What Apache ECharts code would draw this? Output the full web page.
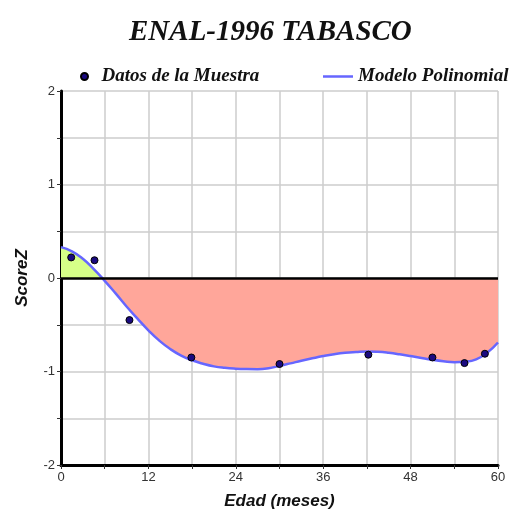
<!DOCTYPE html>
<html>
<head>
<meta charset="utf-8">
<script src="https://cdn.jsdelivr.net/npm/echarts@6/dist/echarts.min.js"></script>
<style>html,body{margin:0;padding:0;background:#fff;}#c{width:518px;height:515px;}</style>
</head>
<body>
<div id="c"></div>
<script>
var titleText = 'ENAL-1996 TABASCO';
var seriesNames = ['Datos de la Muestra', 'Modelo Polinomial'];
var sampleX = [1.4, 4.6, 9.4, 17.9, 30, 42.2, 51, 55.4, 58.2];
var sampleY = [0.22, 0.19, -0.45, -0.85, -0.92, -0.82, -0.85, -0.91, -0.81];
var curveX = [0, 1.5, 3, 4.5, 6, 7.5, 9, 10.5, 12, 13.5, 15, 16.5, 18, 19.5, 21, 22.5, 24, 25.5, 27, 28.5, 30,
              31.5, 33, 34.5, 36, 37.5, 39, 40.5, 42, 43.5, 45, 46.5, 48, 49.5, 51, 52.5, 54, 55.5, 57, 58.5, 60];
var curveY = [0.33, 0.285, 0.205, 0.095, -0.03, -0.165, -0.305, -0.435, -0.56, -0.67, -0.76, -0.83, -0.88, -0.917, -0.945, -0.961, -0.97, -0.974, -0.975, -0.965, -0.94,
              -0.913, -0.885, -0.859, -0.835, -0.815, -0.80, -0.791, -0.785, -0.789, -0.80, -0.816, -0.835, -0.856, -0.875, -0.89, -0.90, -0.895, -0.87, -0.80, -0.69];
var xTicks = {min: 0, max: 60, interval: 6, labelEvery: 12};
var yTicks = {min: -2, max: 2, interval: 0.5, labelEvery: 1};

var chart = echarts.init(document.getElementById('c'));
var samples = sampleX.map(function (x, i) { return [x, sampleY[i]]; });
var curve = curveX.map(function (x, i) { return [x, curveY[i]]; });
var sans = 'Liberation Sans';
var serif = 'Liberation Serif';

function areaColor(zeroPx) {
  if (zeroPx == null) return '#ffa69a';
  return new echarts.graphic.LinearGradient(0, 0, 0, 515, [
    {offset: 0, color: '#d6ff88'},
    {offset: zeroPx / 515, color: '#d6ff88'},
    {offset: zeroPx / 515, color: '#ffa69a'},
    {offset: 1, color: '#ffa69a'}
  ], true);
}

var legendText = {fontFamily: serif, fontStyle: 'italic', fontWeight: 'bold', fontSize: 19, color: '#111'};
var option = {
  backgroundColor: '#fff',
  animation: false,
  title: {
    text: titleText, left: 124, top: 13,
    textStyle: {fontFamily: serif, fontStyle: 'italic', fontWeight: 'bold', fontSize: 29, color: '#111'}
  },
  legend: [
    {data: [{name: seriesNames[0], icon: 'circle'}], left: 75, top: 62, itemWidth: 24, itemHeight: 7, itemGap: 5,
     textStyle: legendText},
    {data: [{name: seriesNames[1], icon: 'rect'}], left: 318, top: 62, itemWidth: 30, itemHeight: 2.5,
     textStyle: legendText}
  ],
  grid: {left: 61, right: 20, top: 91, bottom: 49},
  xAxis: {
    type: 'value', min: xTicks.min, max: xTicks.max, interval: xTicks.interval,
    name: 'Edad (meses)', nameLocation: 'middle', nameGap: 28,
    nameTextStyle: {fontFamily: sans, fontStyle: 'italic', fontWeight: 'bold', fontSize: 17, color: '#111'},
    axisLine: {onZero: false, lineStyle: {color: '#000', width: 3}},
    axisTick: {show: true, length: 4, lineStyle: {color: '#333', width: 1}},
    axisLabel: {fontFamily: sans, fontSize: 13, color: '#333', margin: 6,
      formatter: function (v) { return v % xTicks.labelEvery === 0 ? String(v) : ''; }},
    splitLine: {show: true, lineStyle: {color: '#cccccc', width: 1.5}}
  },
  yAxis: {
    type: 'value', min: yTicks.min, max: yTicks.max, interval: yTicks.interval,
    name: 'ScoreZ', nameLocation: 'middle', nameGap: 30,
    nameTextStyle: {fontFamily: sans, fontStyle: 'italic', fontWeight: 'bold', fontSize: 17, color: '#111'},
    axisLine: {lineStyle: {color: '#000', width: 3}},
    axisTick: {show: true, length: 4, lineStyle: {color: '#333', width: 1}},
    axisLabel: {fontFamily: sans, fontSize: 13, color: '#333', margin: 6,
      formatter: function (v) { return v % yTicks.labelEvery === 0 ? String(v) : ''; }},
    splitLine: {show: true, lineStyle: {color: '#cccccc', width: 1.5}}
  },
  series: [
    {
      name: seriesNames[1], type: 'line', data: curve, smooth: true, symbol: 'none',
      lineStyle: {color: '#6666ff', width: 2.5},
      itemStyle: {color: '#6666ff'},
      areaStyle: {color: areaColor(null), opacity: 1, origin: 0},
      markLine: {silent: true, symbol: 'none', label: {show: false},
        lineStyle: {color: '#000', width: 2.5, type: 'solid'}, data: [{yAxis: 0}]},
      z: 2
    },
    {
      name: seriesNames[0], type: 'scatter', data: samples, symbolSize: 7,
      itemStyle: {color: '#1a0a80', borderColor: '#000', borderWidth: 1, opacity: 1},
      z: 5
    }
  ]
};
chart.setOption(option);
var zeroPx = chart.convertToPixel({gridIndex: 0}, [0, 0])[1];
chart.setOption({series: [{areaStyle: {color: areaColor(zeroPx), opacity: 1, origin: 0}}, {}]});
</script>
</body>
</html>
